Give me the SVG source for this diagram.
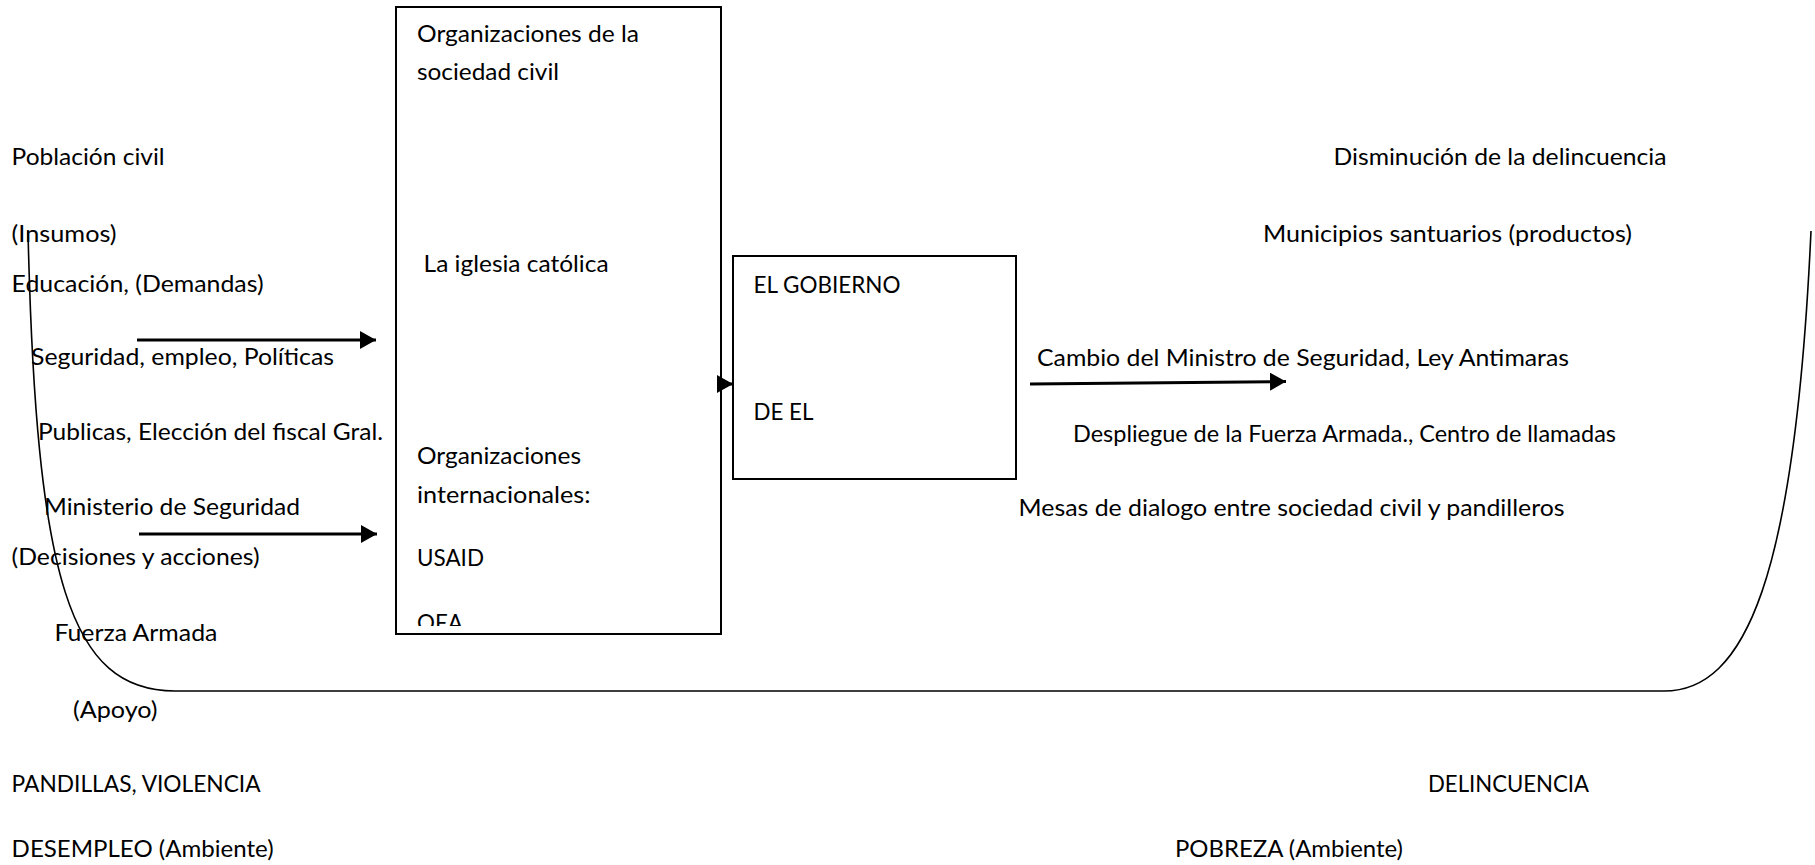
<svg xmlns="http://www.w3.org/2000/svg" width="1815" height="865" viewBox="0 0 1815 865">
<style>
text{font-family:Lato,"Open Sans","Liberation Sans",sans-serif;font-size:24px;fill:#000}
.box{fill:#fff;stroke:#000;stroke-width:2}
.conn{fill:none;stroke:#000;stroke-width:3}
.curve{fill:none;stroke:#000;stroke-width:1.6}
</style>
<defs>
<marker id="ah" markerUnits="userSpaceOnUse" markerWidth="16" markerHeight="18" refX="16" refY="9" orient="auto">
<path d="M0,0 L16,9 L0,18 z" fill="#000"/>
</marker>
<clipPath id="bigclip"><rect x="396" y="8" width="325" height="618"/></clipPath>
</defs>
<rect width="1815" height="865" fill="#fff"/>
<g id="environment-curve">
<path class="curve" d="M28,231 C36,580 70,691 175,691 L1664,691 C1745,691 1795,580 1811,231"/>
</g>
<g id="inputs">
<text x="11.6" y="165" textLength="153" lengthAdjust="spacingAndGlyphs">Población civil</text>
<text x="11.6" y="242" textLength="105" lengthAdjust="spacingAndGlyphs">(Insumos)</text>
<text x="11.6" y="291.5" textLength="252" lengthAdjust="spacingAndGlyphs">Educación, (Demandas)</text>
<text x="31" y="364.5" textLength="303" lengthAdjust="spacingAndGlyphs">Seguridad, empleo, Políticas</text>
<text x="38" y="440" textLength="345" lengthAdjust="spacingAndGlyphs">Publicas, Elección del fiscal Gral.</text>
<text x="44" y="515" textLength="256" lengthAdjust="spacingAndGlyphs">Ministerio de Seguridad</text>
<text x="11.6" y="565" textLength="248" lengthAdjust="spacingAndGlyphs">(Decisiones y acciones)</text>
<text x="54.4" y="641" textLength="163" lengthAdjust="spacingAndGlyphs">Fuerza Armada</text>
<text x="73" y="717.5" textLength="84.5" lengthAdjust="spacingAndGlyphs">(Apoyo)</text>
</g>
<g id="environment-left">
<text x="11.6" y="791.6" textLength="249" lengthAdjust="spacingAndGlyphs">PANDILLAS, VIOLENCIA</text>
<text x="11.6" y="856.5" textLength="262" lengthAdjust="spacingAndGlyphs">DESEMPLEO (Ambiente)</text>
</g>
<g id="organizations">
<rect class="box" x="396" y="7" width="325" height="627"/>
<g clip-path="url(#bigclip)">
<text x="417" y="42" textLength="222" lengthAdjust="spacingAndGlyphs">Organizaciones de la</text>
<text x="417" y="80" textLength="142" lengthAdjust="spacingAndGlyphs">sociedad civil</text>
<text x="423.6" y="272" textLength="185" lengthAdjust="spacingAndGlyphs">La iglesia católica</text>
<text x="417" y="464" textLength="164" lengthAdjust="spacingAndGlyphs">Organizaciones</text>
<text x="417" y="503.4" textLength="173.5" lengthAdjust="spacingAndGlyphs">internacionales:</text>
<text x="417" y="566" textLength="67" lengthAdjust="spacingAndGlyphs">USAID</text>
<text x="417" y="631" textLength="46" lengthAdjust="spacingAndGlyphs">OEA</text>
</g>
</g>
<g id="government">
<rect class="box" x="733" y="256" width="283" height="223"/>
<text x="753.5" y="292.7" textLength="147" lengthAdjust="spacingAndGlyphs">EL GOBIERNO</text>
<text x="753.5" y="420" textLength="60" lengthAdjust="spacingAndGlyphs">DE EL</text>
</g>
<g id="outputs">
<text x="1333.5" y="165.4" textLength="333" lengthAdjust="spacingAndGlyphs">Disminución de la delincuencia</text>
<text x="1263" y="242" textLength="369" lengthAdjust="spacingAndGlyphs">Municipios santuarios (productos)</text>
<text x="1037" y="365.7" textLength="532" lengthAdjust="spacingAndGlyphs">Cambio del Ministro de Seguridad, Ley Antimaras</text>
<text x="1073" y="442" textLength="543" lengthAdjust="spacingAndGlyphs">Despliegue de la Fuerza Armada., Centro de llamadas</text>
<text x="1018.6" y="516" textLength="546" lengthAdjust="spacingAndGlyphs">Mesas de dialogo entre sociedad civil y pandilleros</text>
</g>
<g id="environment-right">
<text x="1428" y="791.6" textLength="161" lengthAdjust="spacingAndGlyphs">DELINCUENCIA</text>
<text x="1175" y="856.5" textLength="228" lengthAdjust="spacingAndGlyphs">POBREZA (Ambiente)</text>
</g>
<g id="connectors">
<line class="conn" x1="137" y1="340" x2="376" y2="340" marker-end="url(#ah)"/>
<line class="conn" x1="139" y1="534" x2="377" y2="534" marker-end="url(#ah)"/>
<line class="conn" x1="721" y1="384" x2="733" y2="384" marker-end="url(#ah)"/>
<line class="conn" x1="1030" y1="384" x2="1286" y2="381.5" marker-end="url(#ah)"/>
</g>
</svg>
